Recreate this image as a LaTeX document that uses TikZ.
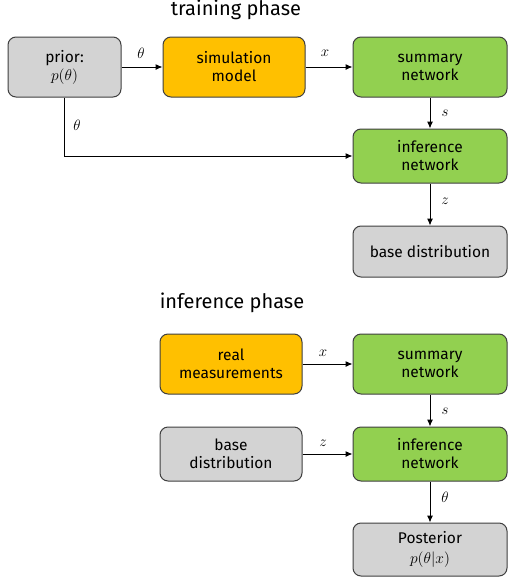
\RequirePackage{fix-cm}
\documentclass[tikz,border=0pt]{standalone}
\usepackage{fontspec}
\setmainfont{Fira Sans}
\usetikzlibrary{arrows.meta}
\definecolor{boxgray}{HTML}{D3D3D3}
\definecolor{boxorange}{HTML}{FFC000}
\definecolor{boxgreen}{HTML}{92D050}
\definecolor{edgegray}{HTML}{3F3F3F}
\tikzset{
  blk/.style={draw=edgegray, line width=1pt, rounded corners=8pt, align=center,
    font=\fontsize{15.5}{18}\selectfont, inner sep=0pt},
  graybox/.style={blk, fill=boxgray},
  orangebox/.style={blk, fill=boxorange},
  greenbox/.style={blk, fill=boxgreen},
  conn/.style={line width=1pt, -{Latex[length=7pt,width=6pt]}},
  lbl/.style={font=\fontsize{15}{17}\selectfont, inner sep=0pt},
  ttl/.style={font=\fontsize{20}{24}\selectfont, inner sep=0pt}
}
\begin{document}
\begin{tikzpicture}[x=1pt,y=-1pt]
\useasboundingbox (0,0) rectangle (508,579);
% titles
\node[ttl] (t1) at (236,10) {training phase};
\node[ttl] (t2) at (232,303) {inference phase};
% training phase
\node[graybox, minimum width=113pt, minimum height=60pt] (prior) at (64.5,67) {prior:\\$p(\theta)$};
\node[orangebox, minimum width=142pt, minimum height=60pt] (sim) at (234,67) {simulation\\model};
\node[greenbox, minimum width=154pt, minimum height=60pt] (sum1) at (430,67) {summary\\network};
\node[greenbox, minimum width=154pt, minimum height=54pt] (inf1) at (430,156) {inference\\network};
\node[graybox, minimum width=154pt, minimum height=51pt] (base1) at (430,251.5) {base distribution};
\draw[conn] (prior) -- (sim);
\draw[conn] (sim) -- (sum1);
\draw[conn] (sum1) -- (inf1);
\draw[conn] (inf1) -- (base1);
\draw[conn] (prior.south) |- (inf1.west);
\node[lbl] (l1) at (141,53) {$\theta$};
\node[lbl] (l2) at (325,53) {$x$};
\node[lbl] (l3) at (445,113) {$s$};
\node[lbl] (l4) at (445,201) {$z$};
\node[lbl] (l5) at (77,125) {$\theta$};
% inference phase
\node[orangebox, minimum width=142pt, minimum height=60pt] (meas) at (231,364) {real\\measurements};
\node[greenbox, minimum width=154pt, minimum height=60pt] (sum2) at (430,364) {summary\\network};
\node[graybox, minimum width=142pt, minimum height=54pt] (base2) at (231,454) {base\\distribution};
\node[greenbox, minimum width=154pt, minimum height=54pt] (inf2) at (430,454) {inference\\network};
\node[graybox, minimum width=154pt, minimum height=53pt] (post) at (430,549.5) {Posterior\\[2pt]$p(\theta|x)$};
\draw[conn] (meas) -- (sum2);
\draw[conn] (sum2) -- (inf2);
\draw[conn] (base2) -- (inf2);
\draw[conn] (inf2) -- (post);
\node[lbl] (m1) at (323,353) {$x$};
\node[lbl] (m2) at (445,411) {$s$};
\node[lbl] (m3) at (323,443) {$z$};
\node[lbl] (m4) at (445,497) {$\theta$};
\end{tikzpicture}
\end{document}
